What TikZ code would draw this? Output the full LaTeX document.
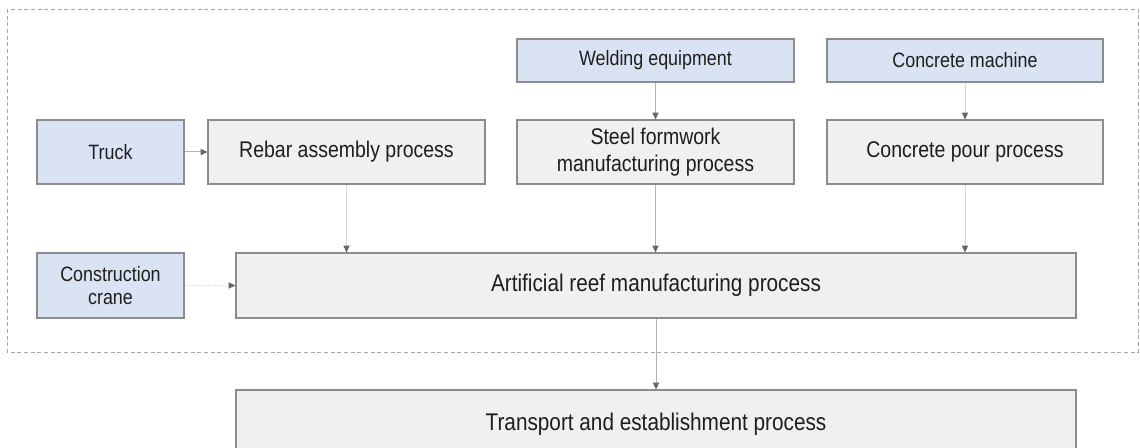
\documentclass[tikz,border=0pt]{standalone}
\usepackage{fontspec}
\setmainfont{Liberation Sans}[FakeStretch=0.86]
\usetikzlibrary{arrows.meta}
\definecolor{resfill}{HTML}{DAE3F3}
\definecolor{procfill}{HTML}{F0F0F0}
\definecolor{boxline}{HTML}{8C8C8C}
\definecolor{linkline}{HTML}{B4B4B4}
\definecolor{linklight}{HTML}{D6D6D6}
\definecolor{tipgray}{HTML}{666666}
\definecolor{framegray}{HTML}{A8A8A8}
\definecolor{txt}{HTML}{1E1E1E}
\tikzset{
  box/.style={draw=boxline, line width=0.9pt, inner sep=0pt, text=txt, align=center},
  resource/.style={box, fill=resfill, font=\fontsize{15.6}{17.5}\selectfont},
  procbox/.style={box, fill=procfill, font=\fontsize{17}{20}\selectfont},
  mainbox/.style={box, fill=procfill, font=\fontsize{18.1}{20}\selectfont},
  link/.style={draw=linkline, line width=0.75pt,
    -{Triangle[length=5pt,width=4.6pt,color=tipgray]}},
  linklt/.style={link, draw=linklight},
  frame/.style={draw=framegray, line width=0.6pt, dash pattern=on 3pt off 2pt}
}
\begin{document}
\begin{tikzpicture}[x=0.75pt,y=-0.75pt]
\useasboundingbox (0,0) rectangle (1140,448);
\fill[white] (0,0) rectangle (1140,448);

% grouping frame around the manufacturing stage
\draw[frame] (7,9) rectangle (1138,352);

% resources
\node[resource, minimum width=147*0.75pt, minimum height=64*0.75pt] (truck) at (110.5,152) {Truck};
\node[resource, minimum width=277*0.75pt, minimum height=43*0.75pt] (weld) at (655.5,60.5) {Welding equipment};
\node[resource, minimum width=276*0.75pt, minimum height=43*0.75pt] (cmach) at (965,60.5) {Concrete machine};
\node[resource, minimum width=147*0.75pt, minimum height=65*0.75pt] (crane) at (110.5,285.5) {Construction\\crane};

% processes
\node[procbox, minimum width=277*0.75pt, minimum height=64*0.75pt] (rebar) at (346.5,152) {Rebar assembly process};
\node[procbox, minimum width=277*0.75pt, minimum height=64*0.75pt] (steel) at (655.5,152) {Steel formwork\\manufacturing process};
\node[procbox, minimum width=276*0.75pt, minimum height=64*0.75pt] (pour) at (965,152) {Concrete pour process};
\node[mainbox, minimum width=840*0.75pt, minimum height=65*0.75pt] (reef) at (656,285.5) {Artificial reef manufacturing process};
\node[mainbox, minimum width=840*0.75pt, minimum height=68*0.75pt] (transport) at (656,424) {Transport and establishment process};

% connectors
\draw[link] (truck.east) -- (rebar.west);
\draw[link] (weld.south) -- (steel.north);
\draw[linklt] (cmach.south) -- (pour.north);
\draw[linklt] (rebar.south) -- (rebar.south |- reef.north);
\draw[link] (steel.south) -- (steel.south |- reef.north);
\draw[linklt] (pour.south) -- (pour.south |- reef.north);
\draw[linklt, densely dotted] (crane.east) -- (reef.west);
\draw[link] (reef.south) -- (transport.north);
\end{tikzpicture}
\end{document}
